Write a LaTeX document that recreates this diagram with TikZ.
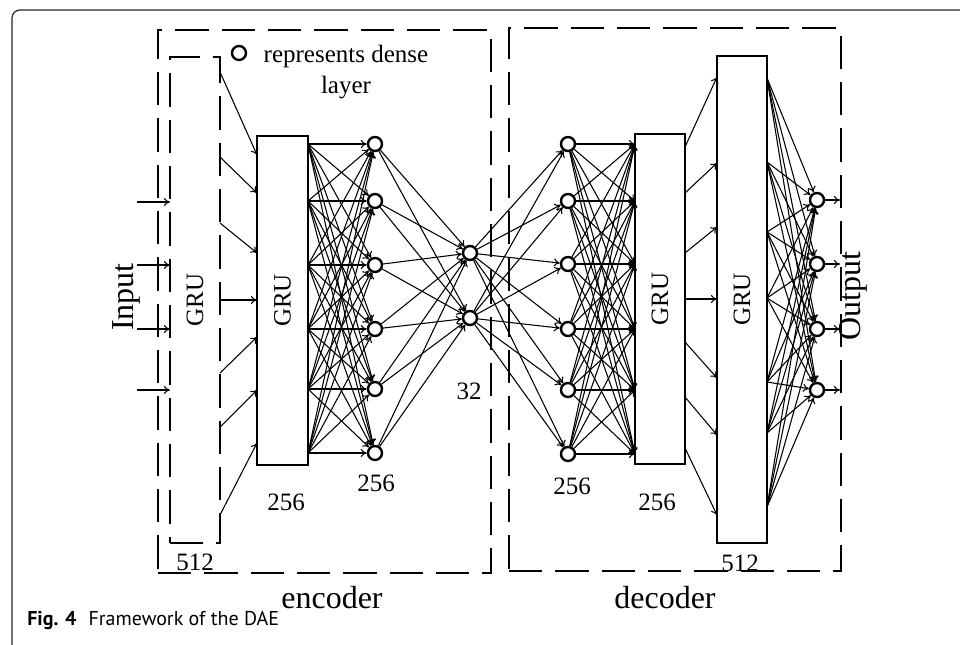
\documentclass[tikz,border=0pt]{standalone}
\usepackage{fontspec}
\usepackage{graphicx}
\setmainfont{Liberation Serif}
\newfontfamily\captionsans{PT Sans}
\usetikzlibrary{arrows.meta}
\newcommand\lblsize{\fontsize{18.75pt}{23.25pt}\selectfont}
\newcommand\bigsize{\fontsize{24pt}{28pt}\selectfont}
\begin{document}
\begin{tikzpicture}[x=0.75pt,y=-0.75pt,
  conn/.style={line width=0.8pt,-{To[length=4.5pt,width=6pt]}},
  dense/.style={circle,draw,line width=1.8pt,fill=white,minimum size=10.5pt,inner sep=0pt},
  grubox/.style={draw,line width=1.5pt,inner sep=0pt,minimum width=37.5pt,font=\lblsize},
  groupbox/.style={draw,line width=1.6pt,dash pattern=on 25pt off 9.75pt,inner sep=0pt},
  lbl/.style={font=\lblsize,inner sep=0pt},
  biglbl/.style={font=\bigsize,inner sep=0pt}]
\useasboundingbox (0,0) rectangle (960,645);

% page frame
\draw[line width=0.9pt,black!85,rounded corners=6pt] (12,645) -- (12,10) -- (960,10);

% encoder and decoder groups
\node[groupbox,minimum width=249.75pt,minimum height=407.25pt] (encbox) at (324.5,301.5) {};
\node[groupbox,minimum width=249pt,minimum height=407.25pt] (decbox) at (675,299.5) {};
\node[biglbl] (enclbl) at (332,598) {encoder};
\node[biglbl] (declbl) at (665,598) {decoder};

% GRU layers
\node[grubox,groupbox,minimum width=37.5pt,minimum height=364.5pt] (enc1) at (195,300) {\rotatebox{90}{GRU}};
\node[grubox,minimum width=38.25pt,minimum height=246.75pt] (enc2) at (282.5,300.5) {\rotatebox{90}{GRU}};
\node[grubox,minimum height=247.5pt] (dec1) at (660,299) {\rotatebox{90}{GRU}};
\node[grubox,minimum height=365.25pt] (dec2) at (742,299.5) {\rotatebox{90}{GRU}};

% input side
\node[biglbl] (inlbl) at (126,297) {\rotatebox{90}{Input}};
\foreach \y [count=\i] in {202,265,329,390} {
  \coordinate (in\i) at (137,\y);
  \coordinate (inend\i) at (170,\y);
  \draw[conn] (in\i) -- (inend\i);
}

% first GRU to second GRU
\foreach \ys/\yt [count=\i] in {72/155,157/193,223/253,300/300,373/337,427/390,515/443} {
  \coordinate (a\i) at (220,\ys);
  \coordinate (b\i) at (257,\yt);
  \draw[conn] (a\i) -- (b\i);
}

% dense layers
\foreach \y [count=\i] in {144,201,265,329,389,453} {
  \node[dense] (ec\i) at (375,\y) {};
  \coordinate (er\i) at (308,\y);
}
\node[dense] (cc1) at (470,253) {};
\node[dense] (cc2) at (470,318) {};
\foreach \y [count=\i] in {144,201,264,329,390,454} {
  \node[dense] (dc\i) at (568,\y) {};
  \coordinate (dl\i) at (635,\y);
}
\foreach \y [count=\i] in {200,264,329,390} {
  \node[dense] (oc\i) at (817,\y) {};
  \coordinate (oend\i) at (840,\y);
  \draw[conn] (oc\i) -- (oend\i);
}

% full connections
\foreach \i in {1,...,6} {
  \foreach \j in {1,...,6} {
    \draw[conn] (er\i) -- (ec\j);
    \draw[conn] (dc\i) -- (dl\j);
  }
  \foreach \j in {1,2} {
    \draw[conn] (ec\i) -- (cc\j);
    \draw[conn] (cc\j) -- (dc\i);
  }
}

% decoder GRU to last GRU
\foreach \ys/\yt [count=\i] in {147/77,193/163,253/227,299/299,342/378,397/435,448/515} {
  \coordinate (p\i) at (685,\ys);
  \coordinate (q\i) at (717,\yt);
  \draw[conn] (p\i) -- (q\i);
}

% last GRU to output units
\foreach \y [count=\i] in {78,162,232,298,382,433,507} {
  \coordinate (r\i) at (767,\y);
  \foreach \j in {1,...,4} \draw[conn] (r\i) -- (oc\j);
}
\node[biglbl] (outlbl) at (853,296) {\rotatebox{90}{Output}};

% sizes
\node[lbl] (n512a) at (195,562) {512};
\node[lbl] (n256a) at (286,502) {256};
\node[lbl] (n256b) at (376,483) {256};
\node[lbl] (n32) at (469,391) {32};
\node[lbl] (n256c) at (572,486) {256};
\node[lbl] (n256d) at (657,502) {256};
\node[lbl] (n512b) at (740,563) {512};

% legend
\node[dense] (legcirc) at (239,53) {};
\node[lbl,align=center] (legtext) at (346,72) {represents dense\\layer};

% caption
\node[anchor=base west,inner sep=0pt,font=\captionsans\fontsize{15pt}{18pt}\selectfont] (caption) at (27,625) {\textbf{Fig. 4}\hspace{0.6em}Framework of the DAE};
\end{tikzpicture}
\end{document}
